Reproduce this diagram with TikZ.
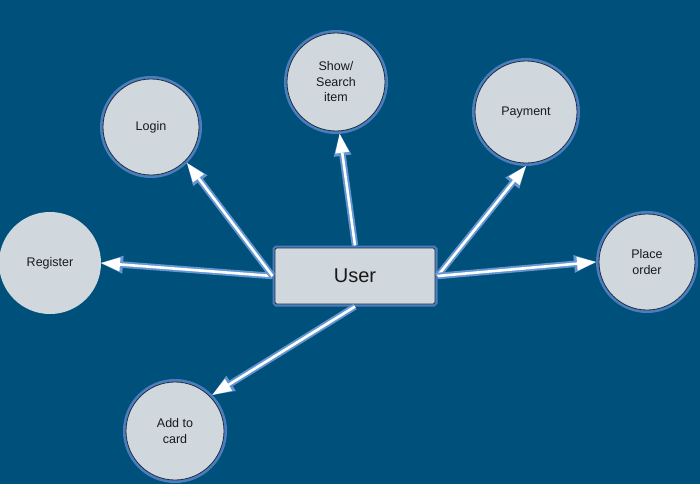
\documentclass[tikz,border=0pt]{standalone}
\usepackage{fontspec}
\setmainfont{Liberation Sans}
\usetikzlibrary{arrows.meta}
\definecolor{bg}{RGB}{0,80,124}
\definecolor{cfill}{RGB}{208,216,222}
\definecolor{ring}{RGB}{74,126,190}
\definecolor{glow}{RGB}{100,150,210}
\definecolor{dline}{RGB}{30,45,60}
\definecolor{txt}{RGB}{25,25,25}
\tikzset{
  usecase/.style={circle, fill=cfill, draw=dline, line width=0.8pt,
    preaction={draw=ring, line width=6pt}, outer sep=3pt, inner sep=0pt,
    align=center, text=txt, font=\fontsize{12.5}{15.5}\selectfont, minimum size=#1},
  plaincase/.style={circle, fill=cfill, inner sep=0pt, outer sep=0pt,
    align=center, text=txt, font=\fontsize{12.5}{15.5}\selectfont, minimum size=#1},
  actorbox/.style={rectangle, rounded corners=1.5pt, fill=cfill, draw=dline, line width=0.8pt,
    preaction={draw=ring, line width=5pt}, minimum width=160pt, minimum height=56pt,
    outer sep=2.5pt, font=\fontsize{20}{24}\selectfont, text=txt},
  glowline/.style={draw=glow, line width=6.5pt, -{Triangle[length=22pt,width=18pt,line width=0pt]}},
  coreline/.style={draw=white, line width=2.6pt, -{Triangle[length=19pt,width=14pt,line width=0pt]}},
}
\begin{document}
\begin{tikzpicture}[x=1pt,y=-1pt]
  \useasboundingbox (0,0) rectangle (700,484);
  \fill[bg] (0,0) rectangle (700,484);
  \node[actorbox] (user) at (355,276) {User};
  \node[plaincase=102pt] (reg) at (50,263) {Register};
  \node[usecase=96pt] (login) at (151,127) {Login};
  \node[usecase=98pt] (show) at (336,82) {Show/\\Search\\item};
  \node[usecase=102pt] (pay) at (526,112) {Payment};
  \node[usecase=96pt] (place) at (647,262) {Place\\order};
  \node[usecase=98pt] (add) at (175,431) {Add to\\card};
  \foreach \a/\b in {user.west/reg.0, user.west/login.-45, user.north/show.-86,
                     user.east/pay.-90, user.east/place.180, user.south/add.44} {
    \draw[glowline] (\a) -- (\b);
    \draw[coreline] (\a) -- (\b);
  }
\end{tikzpicture}
\end{document}
